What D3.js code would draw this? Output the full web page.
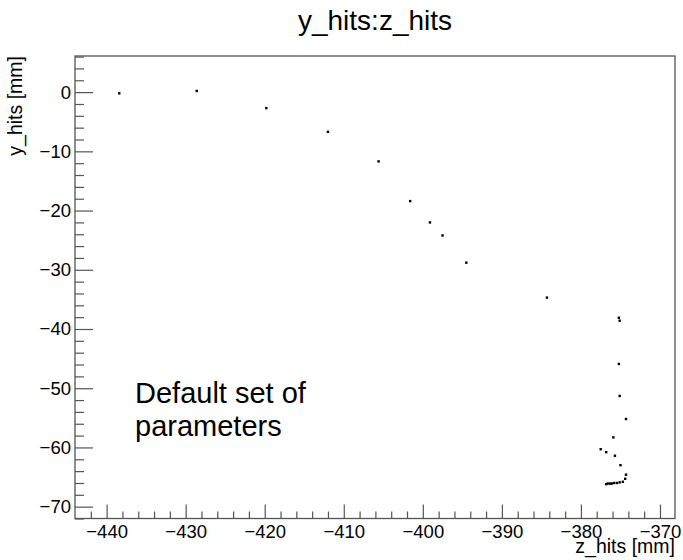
<!DOCTYPE html>
<html>
<head>
<meta charset="utf-8">
<script src="https://cdn.jsdelivr.net/npm/d3@7"></script>
<style>
  body { margin: 0; background: #fff; }
  svg { display: block; font-family: "Liberation Sans", Arial, sans-serif; }
</style>
</head>
<body>
<svg id="svg" width="683" height="560"></svg>
<script>
// DATA
const zHits = [-438.4, -428.6, -419.8, -412.0, -405.6, -401.6, -399.1, -397.5, -394.5, -384.3,
  -375.2, -375.1, -375.2, -375.1, -374.3, -375.9, -377.5, -376.8, -375.7, -375.0,
  -374.3, -374.4, -374.7, -375.1, -375.45, -375.8, -376.1, -376.3, -376.6, -376.8];
const yHits = [-0.2, 0.2, -2.7, -6.7, -11.7, -18.4, -22.0, -24.2, -28.8, -34.7,
  -38.1, -38.6, -45.9, -51.3, -55.2, -58.3, -60.3, -60.8, -61.4, -63.0,
  -64.6, -65.3, -65.8, -65.9, -66.0, -66.0, -66.1, -66.1, -66.1, -66.2];
const xTicks = [-440, -430, -420, -410, -400, -390, -380, -370];
const yTicks = [0, -10, -20, -30, -40, -50, -60, -70];
const xDomain = [-444.0, -368.1];
const yDomain = [-72.0, 6.1];

// LAYOUT
const frame = { left: 75, right: 675, top: 56, bottom: 518.5 };
const axisColor = "#555";
const svg = d3.select("#svg");

const x = d3.scaleLinear().domain(xDomain).range([frame.left, frame.right]);
const y = d3.scaleLinear().domain(yDomain).range([frame.bottom, frame.top]);

const fmt = d3.format("d");
const minorX = d3.range(-442, -368, 2).filter(v => !xTicks.includes(v));
const minorY = d3.range(-72, 7, 2).filter(v => !yTicks.includes(v));

const styleLabels = g => g.selectAll("text")
  .style("font-size", "18.5px")
  .style("font-family", "'Liberation Sans', Arial, sans-serif")
  .attr("fill", "#000");

// minor ticks
svg.append("g")
  .attr("transform", `translate(0,${frame.bottom})`)
  .call(d3.axisBottom(x).tickValues(minorX).tickSize(-7).tickFormat(""))
  .call(g => g.select(".domain").remove());
svg.append("g")
  .attr("transform", `translate(${frame.left},0)`)
  .call(d3.axisLeft(y).tickValues(minorY).tickSize(-9).tickFormat(""))
  .call(g => g.select(".domain").remove());

// major ticks + labels
svg.append("g")
  .attr("transform", `translate(0,${frame.bottom})`)
  .call(d3.axisBottom(x).tickValues(xTicks).tickSize(-14).tickPadding(6).tickFormat(fmt))
  .call(g => g.select(".domain").remove())
  .call(styleLabels);
svg.append("g")
  .attr("transform", `translate(${frame.left},0)`)
  .call(d3.axisLeft(y).tickValues(yTicks).tickSize(-18).tickPadding(4).tickFormat(fmt))
  .call(g => g.select(".domain").remove())
  .call(styleLabels);

svg.selectAll(".tick line").attr("stroke", axisColor).attr("stroke-width", 1.2);

// frame
svg.append("rect")
  .attr("x", frame.left).attr("y", frame.top)
  .attr("width", frame.right - frame.left).attr("height", frame.bottom - frame.top)
  .attr("fill", "none").attr("stroke", axisColor).attr("stroke-width", 1.3);

// points
svg.append("g")
  .selectAll("rect")
  .data(zHits.map((z, i) => [z, yHits[i]]))
  .join("rect")
  .attr("x", d => x(d[0]) - 1.2)
  .attr("y", d => y(d[1]) - 1.2)
  .attr("width", 2.4)
  .attr("height", 2.4)
  .attr("fill", "#000");

// texts
svg.append("text")
  .attr("x", (frame.left + frame.right) / 2).attr("y", 30)
  .attr("text-anchor", "middle").style("font-size", "28px")
  .text("y_hits:z_hits");

svg.append("text")
  .attr("x", frame.right).attr("y", 553)
  .attr("text-anchor", "end").style("font-size", "19.5px")
  .text("z_hits [mm]");

svg.append("text")
  .attr("transform", `translate(22,${frame.top}) rotate(-90)`)
  .attr("text-anchor", "end").style("font-size", "19.5px")
  .text("y_hits [mm]");

const note = svg.append("text").style("font-size", "29px");
note.append("tspan").attr("x", 135).attr("y", 403).text("Default set of");
note.append("tspan").attr("x", 135).attr("y", 436).text("parameters");
</script>
</body>
</html>
